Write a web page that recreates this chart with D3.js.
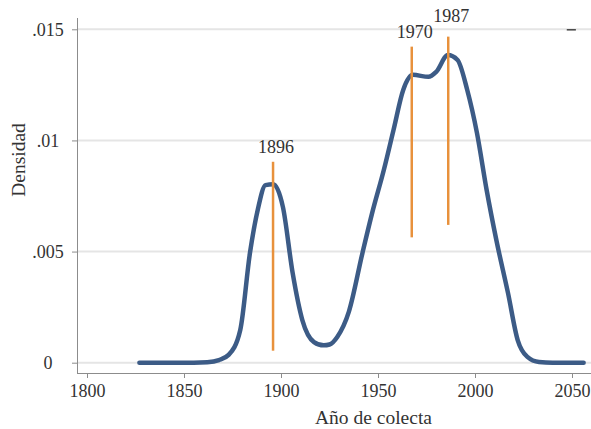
<!DOCTYPE html>
<html>
<head>
<meta charset="utf-8">
<script src="https://cdn.jsdelivr.net/npm/d3@7"></script>
<style>
  html, body { margin: 0; padding: 0; background: #fff; }
  svg { display: block; font-family: "Liberation Serif", "Times New Roman", serif; }
</style>
</head>
<body>
<svg id="chart" width="591" height="429"></svg>
<script>
// ---- data ----
const years = [1827, 1835, 1845, 1855, 1862, 1868, 1873, 1879, 1884, 1888, 1892, 1896,
  1901, 1906, 1911, 1917, 1922, 1925, 1929, 1935, 1942, 1947, 1953, 1958, 1963, 1968,
  1976, 1980, 1986, 1991, 1996, 2001, 2006, 2011, 2017, 2022, 2027, 2033, 2040, 2050, 2056];
const density = [0, 0, 0, 0, 0.00002, 0.00012, 0.00035, 0.00147, 0.00494, 0.00687, 0.00799, 0.00803,
  0.00700, 0.00404, 0.00192, 0.00093, 0.00078, 0.00082, 0.00116, 0.00230, 0.00494, 0.00674, 0.00867, 0.01047, 0.01227, 0.01295,
  0.01286, 0.01308, 0.01384, 0.01362, 0.01227, 0.01034, 0.00777, 0.00552, 0.00314, 0.00102, 0.00026, 0.00003, 0, 0, 0];

const markerLabels = ["1896", "1970", "1987"];
const markerX = [1895.9, 1967.4, 1986.2];
const markerTop = [0.00904, 0.01422, 0.01467];
const markerBottom = [0.00054, 0.00564, 0.00620];
const labelY = [0.00944, 0.01461, 0.01534];

const xTicks = [1800, 1850, 1900, 1950, 2000, 2050];
const yTicks = [0, 0.005, 0.01, 0.015];
const yTickLabels = ["0", ".005", ".01", ".015"];
const xTitle = "Año de colecta";
const yTitle = "Densidad";

// ---- layout ----
const W = 591, H = 429;
const plotLeft = 77, plotTop = 18, plotBottom = 373;
const svg = d3.select("#chart");

const x = d3.scaleLinear().domain([1800, 2050]).range([87, 572]);
const y = d3.scaleLinear().domain([0, 0.015]).range([362.7, 29.3]);

// gridlines
svg.append("g").selectAll("line").data(yTicks).join("line")
  .attr("x1", plotLeft + 1).attr("x2", W)
  .attr("y1", d => y(d)).attr("y2", d => y(d))
  .attr("stroke", "#e5e5e5").attr("stroke-width", 2);

// axes
const axisColor = "#8c8c8c";
const yAxis = svg.append("g").attr("transform", `translate(${plotLeft},0)`)
  .call(d3.axisLeft(y).tickValues(yTicks).tickFormat((d, i) => yTickLabels[i]).tickSize(5).tickPadding(0));
yAxis.select(".domain").remove();
yAxis.selectAll(".tick line").attr("stroke", axisColor);
yAxis.selectAll(".tick text")
  .attr("x", -29).attr("text-anchor", "middle").attr("dy", "0.33em")
  .attr("font-size", 18).attr("fill", "#333").attr("font-family", "Liberation Serif, serif");

const xAxis = svg.append("g").attr("transform", `translate(0,${plotBottom})`)
  .call(d3.axisBottom(x).tickValues(xTicks).tickFormat(d3.format("d")).tickSize(5).tickPadding(0));
xAxis.select(".domain").remove();
xAxis.selectAll(".tick line").attr("stroke", axisColor);
xAxis.selectAll(".tick text")
  .attr("y", 24).attr("dy", 0)
  .attr("font-size", 18).attr("fill", "#333").attr("font-family", "Liberation Serif, serif");

svg.append("line").attr("x1", plotLeft + 0.5).attr("x2", plotLeft + 0.5)
  .attr("y1", plotTop).attr("y2", plotBottom).attr("stroke", axisColor).attr("stroke-width", 1);
svg.append("line").attr("x1", plotLeft).attr("x2", W)
  .attr("y1", plotBottom + 0.5).attr("y2", plotBottom + 0.5).attr("stroke", axisColor).attr("stroke-width", 1);

// titles
svg.append("text").attr("x", 373.5).attr("y", 424).attr("text-anchor", "middle")
  .attr("font-size", 19.5).attr("fill", "#333").text(xTitle);
svg.append("text").attr("transform", "translate(25,160) rotate(-90)").attr("text-anchor", "middle")
  .attr("font-size", 19.5).attr("fill", "#333").text(yTitle);

// density curve
const pts = years.map((d, i) => [d, density[i]]);
svg.append("path").datum(pts)
  .attr("fill", "none").attr("stroke", "#3c5b86").attr("stroke-width", 4.5)
  .attr("stroke-linejoin", "round").attr("stroke-linecap", "round")
  .attr("d", d3.line().curve(d3.curveMonotoneX).x(d => x(d[0])).y(d => y(d[1])));

// marker lines
const markers = markerLabels.map((l, i) => ({ label: l, x: markerX[i], top: markerTop[i], bottom: markerBottom[i], ly: labelY[i] }));
svg.append("g").selectAll("line").data(markers).join("line")
  .attr("x1", d => x(d.x)).attr("x2", d => x(d.x))
  .attr("y1", d => y(d.top)).attr("y2", d => y(d.bottom))
  .attr("stroke", "#e8913c").attr("stroke-width", 2.5);
svg.append("g").selectAll("text").data(markers).join("text")
  .attr("x", d => x(d.x) + 3).attr("y", d => y(d.ly))
  .attr("text-anchor", "middle").attr("font-size", 18).attr("fill", "#333")
  .text(d => d.label);

// small legend stub at top right
svg.append("line").attr("x1", x(2047.3)).attr("x2", x(2052)).attr("y1", y(0.015) + 0.5).attr("y2", y(0.015) + 0.5)
  .attr("stroke", "#444").attr("stroke-width", 1.5);
</script>
</body>
</html>
